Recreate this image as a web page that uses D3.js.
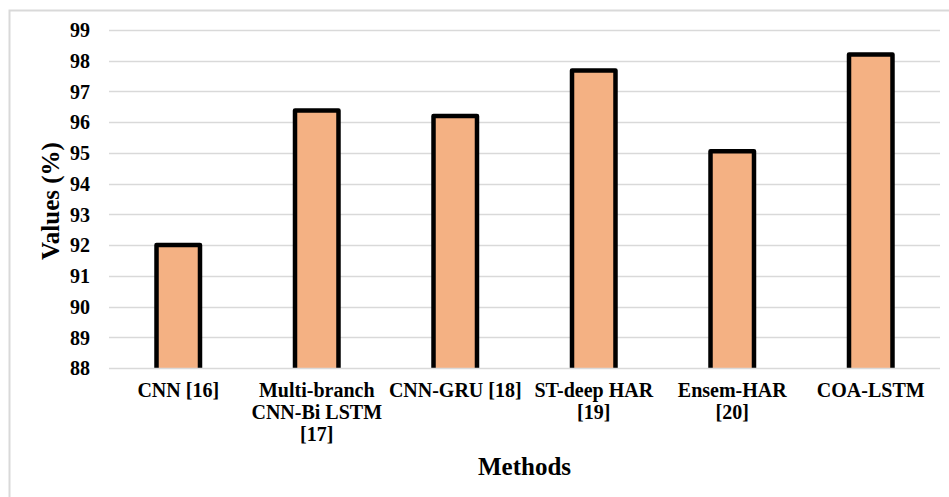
<!DOCTYPE html>
<html>
<head>
<meta charset="utf-8">
<script src="https://cdn.jsdelivr.net/npm/d3@7"></script>
<style>
  html, body { margin: 0; padding: 0; background: #fff; }
  svg { display: block; }
  text { font-family: "Liberation Serif", "Times New Roman", serif; font-weight: bold; fill: #000; }
</style>
</head>
<body>
<svg id="chart" width="949" height="497"></svg>
<script>
// Accuracy of each human activity recognition method
const methods = ["CNN [16]", "Multi-branch CNN-Bi LSTM [17]", "CNN-GRU [18]", "ST-deep HAR [19]", "Ensem-HAR [20]", "COA-LSTM"];
const values = [92.0, 96.38, 96.2, 97.68, 95.05, 98.2];
const yTicks = [88, 89, 90, 91, 92, 93, 94, 95, 96, 97, 98, 99];
const xTitle = "Methods";
const yTitle = "Values (%)";

const svg = d3.select("#chart");
const W = 949, H = 497;
const plot = { left: 109, right: 940, top: 30, bottom: 368 };

// outer chart frame (only top and left edges fall inside the view)
svg.append("rect")
  .attr("x", 9.5).attr("y", 10.5)
  .attr("width", W + 20).attr("height", H + 20)
  .attr("fill", "#fff")
  .attr("stroke", "#d9d9d9").attr("stroke-width", 2);

const x = d3.scaleBand().domain(methods).range([plot.left, plot.right]);
const y = d3.scaleLinear().domain([88, 99]).range([plot.bottom, plot.top]);

// horizontal gridlines
svg.append("g")
  .selectAll("line")
  .data(yTicks.slice(1))
  .join("line")
  .attr("x1", plot.left).attr("x2", plot.right)
  .attr("y1", d => Math.round(y(d)) + 0.5).attr("y2", d => Math.round(y(d)) + 0.5)
  .attr("stroke", "#d9d9d9").attr("stroke-width", 1.3);

// y-axis tick labels
const yAxis = d3.axisLeft(y).tickValues(yTicks).tickSize(0).tickPadding(0).tickFormat(d3.format("d"));
const gy = svg.append("g").attr("transform", `translate(90,0)`).call(yAxis);
gy.select(".domain").remove();
gy.selectAll("text")
  .attr("font-family", "Liberation Serif, Times New Roman, serif")
  .attr("font-weight", "bold")
  .attr("font-size", 20)
  .attr("fill", "#000")
  .attr("dy", "0.34em");

// bars, clipped at the category axis so the outline's bottom edge sits on it
svg.append("clipPath").attr("id", "plotClip")
  .append("rect")
  .attr("x", plot.left).attr("y", 0)
  .attr("width", plot.right - plot.left).attr("height", plot.bottom);

const barW = x.bandwidth() * 0.314;
svg.append("g").attr("clip-path", "url(#plotClip)")
  .selectAll("rect")
  .data(methods.map((m, i) => ({ m, v: values[i] })))
  .join("rect")
  .attr("x", d => x(d.m) + x.bandwidth() / 2 - barW / 2)
  .attr("y", d => y(d.v))
  .attr("width", barW)
  .attr("height", d => y(88) - y(d.v) + 4)
  .attr("fill", "#f4b183")
  .attr("stroke", "#000")
  .attr("stroke-width", 4.5)
  .attr("stroke-linejoin", "round");

// category axis line
svg.append("line")
  .attr("x1", plot.left).attr("x2", plot.right)
  .attr("y1", plot.bottom + 0.5).attr("y2", plot.bottom + 0.5)
  .attr("stroke", "#d9d9d9").attr("stroke-width", 1.5);

// x-axis labels, wrapped to the category width
const xAxis = d3.axisBottom(x).tickSize(0).tickPadding(0);
const gx = svg.append("g").attr("transform", `translate(0,${plot.bottom})`).call(xAxis);
gx.select(".domain").remove();
gx.selectAll("text")
  .attr("font-family", "Liberation Serif, Times New Roman, serif")
  .attr("font-weight", "bold")
  .attr("font-size", 20)
  .attr("fill", "#000")
  .attr("dy", null)
  .attr("y", 0)
  .each(function (label) {
    const t = d3.select(this);
    const words = label.split(" ");
    t.text(null);
    const maxW = x.bandwidth() - 2;
    let lines = [], line = [];
    const probe = t.append("tspan");
    for (const w of words) {
      const trial = line.concat(w).join(" ");
      probe.text(trial);
      if (line.length && probe.node().getComputedTextLength() > maxW) {
        lines.push(line.join(" "));
        line = [w];
      } else {
        line.push(w);
      }
    }
    lines.push(line.join(" "));
    probe.remove();
    lines.forEach((ln, i) => {
      t.append("tspan").attr("x", 0).attr("y", 29 + i * 22).text(ln);
    });
  });

// axis titles
svg.append("text")
  .attr("x", (plot.left + plot.right) / 2)
  .attr("y", 475)
  .attr("text-anchor", "middle")
  .attr("font-size", 25)
  .text(xTitle);

svg.append("text")
  .attr("transform", `translate(59,${201}) rotate(-90)`)
  .attr("text-anchor", "middle")
  .attr("font-size", 25)
  .text(yTitle);
</script>
</body>
</html>
